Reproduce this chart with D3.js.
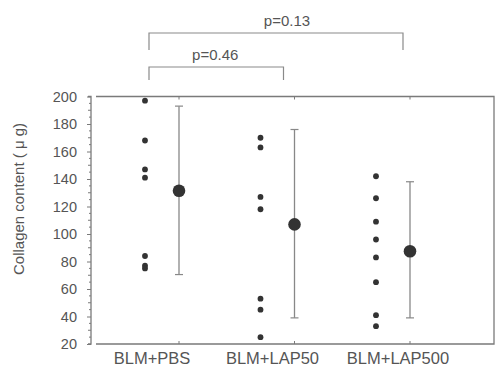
<!DOCTYPE html>
<html><head><meta charset="utf-8">
<script src="https://cdn.jsdelivr.net/npm/d3@7"></script>
<style>body{margin:0;background:#fff}svg{display:block}text{font-family:"Liberation Sans",Arial,sans-serif}</style>
</head><body><svg id="c" width="497" height="370"></svg>
<script>
const categories = ["BLM+PBS", "BLM+LAP50", "BLM+LAP500"];
const pointsPBS = [197, 168, 147, 141, 84, 77, 75];
const pointsLAP50 = [170, 163, 127, 118, 53, 45, 25];
const pointsLAP500 = [142, 126, 109, 96, 83, 65, 41, 33];
const means = [131.5, 107, 87.5];
const errUpper = [193, 176, 138];
const errLower = [70.5, 39, 39];
const yTicks = [20, 40, 60, 80, 100, 120, 140, 160, 180, 200];
const comparisons = [
  {from: 0, to: 1, label: "p=0.46", level: 0},
  {from: 0, to: 2, label: "p=0.13", level: 1}
];
const groupPoints = [pointsPBS, pointsLAP50, pointsLAP500];

const svg = d3.select("#c");
const axisCol = "#7a7a7a", textCol = "#555";
const y = d3.scaleLinear().domain([20, 200]).range([344, 96.5]);
const x = d3.scalePoint().domain(categories).range([162, 393]);
const ptOff = -17, barOff = 17;

// Frame box
svg.append("path").attr("d", `M96,96.5H494V344H96`).attr("fill","none").attr("stroke",axisCol).attr("stroke-width",1.3);
categories.forEach(c => {
  const cx = x(c) + barOff;
  svg.append("line").attr("x1",cx).attr("x2",cx).attr("y1",344).attr("y2",341).attr("stroke",axisCol);
  svg.append("line").attr("x1",cx).attr("x2",cx).attr("y1",96.5).attr("y2",99.5).attr("stroke",axisCol);
});

// Y axis
const yAxis = d3.axisLeft(y).tickValues(yTicks).tickSize(4).tickPadding(10);
const gy = svg.append("g").attr("transform","translate(91,0)").call(yAxis);
gy.select(".domain").attr("stroke",axisCol).attr("stroke-width",1.3).attr("d","M-3,96.5H0V344H-3");
gy.selectAll(".tick line").attr("stroke",axisCol);
gy.selectAll(".tick text").attr("fill",textCol).attr("font-size",14.5).attr("font-family","Liberation Sans, Arial, sans-serif");
const minor = d3.range(25, 200, 5).filter(v => v % 20 !== 0);
gy.selectAll(".minor").data(minor).join("line").attr("class","minor")
  .attr("x1",0).attr("x2",v => v%10===0 ? -3 : -2).attr("y1",v=>y(v)).attr("y2",v=>y(v)).attr("stroke",axisCol);

// Y label
svg.append("text").attr("transform","translate(24,199) rotate(-90)").attr("text-anchor","middle")
  .attr("fill",textCol).attr("font-size",15)
  .text("Collagen content ( μ g)");

// X labels
const labelOff = [-10, -5, 5];
categories.forEach((c,i) => {
  svg.append("text").attr("x", x(c)+labelOff[i]).attr("y",364).attr("text-anchor","middle")
    .attr("fill",textCol).attr("font-size",16.5).text(c);
});

// Individual points
categories.forEach((c,i) => {
  svg.selectAll(null).data(groupPoints[i]).join("circle")
    .attr("cx", x(c)+ptOff).attr("cy", d=>y(d)).attr("r",2.9).attr("fill","#333");
});

// Error bars and means
categories.forEach((c,i) => {
  const cx = x(c)+barOff;
  svg.append("line").attr("x1",cx).attr("x2",cx).attr("y1",y(errUpper[i])).attr("y2",y(errLower[i])).attr("stroke","#888").attr("stroke-width",1.3);
  [errUpper[i], errLower[i]].forEach(v => svg.append("line").attr("x1",cx-4).attr("x2",cx+4).attr("y1",y(v)).attr("y2",y(v)).attr("stroke","#888").attr("stroke-width",1.2));
  svg.append("circle").attr("cx",cx).attr("cy",y(means[i])).attr("r",6.3).attr("fill","#333");
});

// Significance brackets
const levelY = [67, 33], legLen = [13, 17];
comparisons.forEach(cmp => {
  const x1 = x(categories[cmp.from]) - 13;
  const x2 = cmp.to === 1 ? x(categories[cmp.to]) + 6 : x(categories[cmp.to]) + 10;
  const ly = levelY[cmp.level], lg = legLen[cmp.level];
  svg.append("path").attr("d",`M${x1},${ly+lg}V${ly}H${x2}V${ly+lg}`).attr("fill","none").attr("stroke","#8a8a8a").attr("stroke-width",1.2);
  svg.append("text").attr("x",(x1+x2)/2 + (cmp.level===0?-1:11)).attr("y",ly-7).attr("text-anchor","middle")
    .attr("fill",textCol).attr("font-size",15).text(cmp.label);
});
</script></body></html>
